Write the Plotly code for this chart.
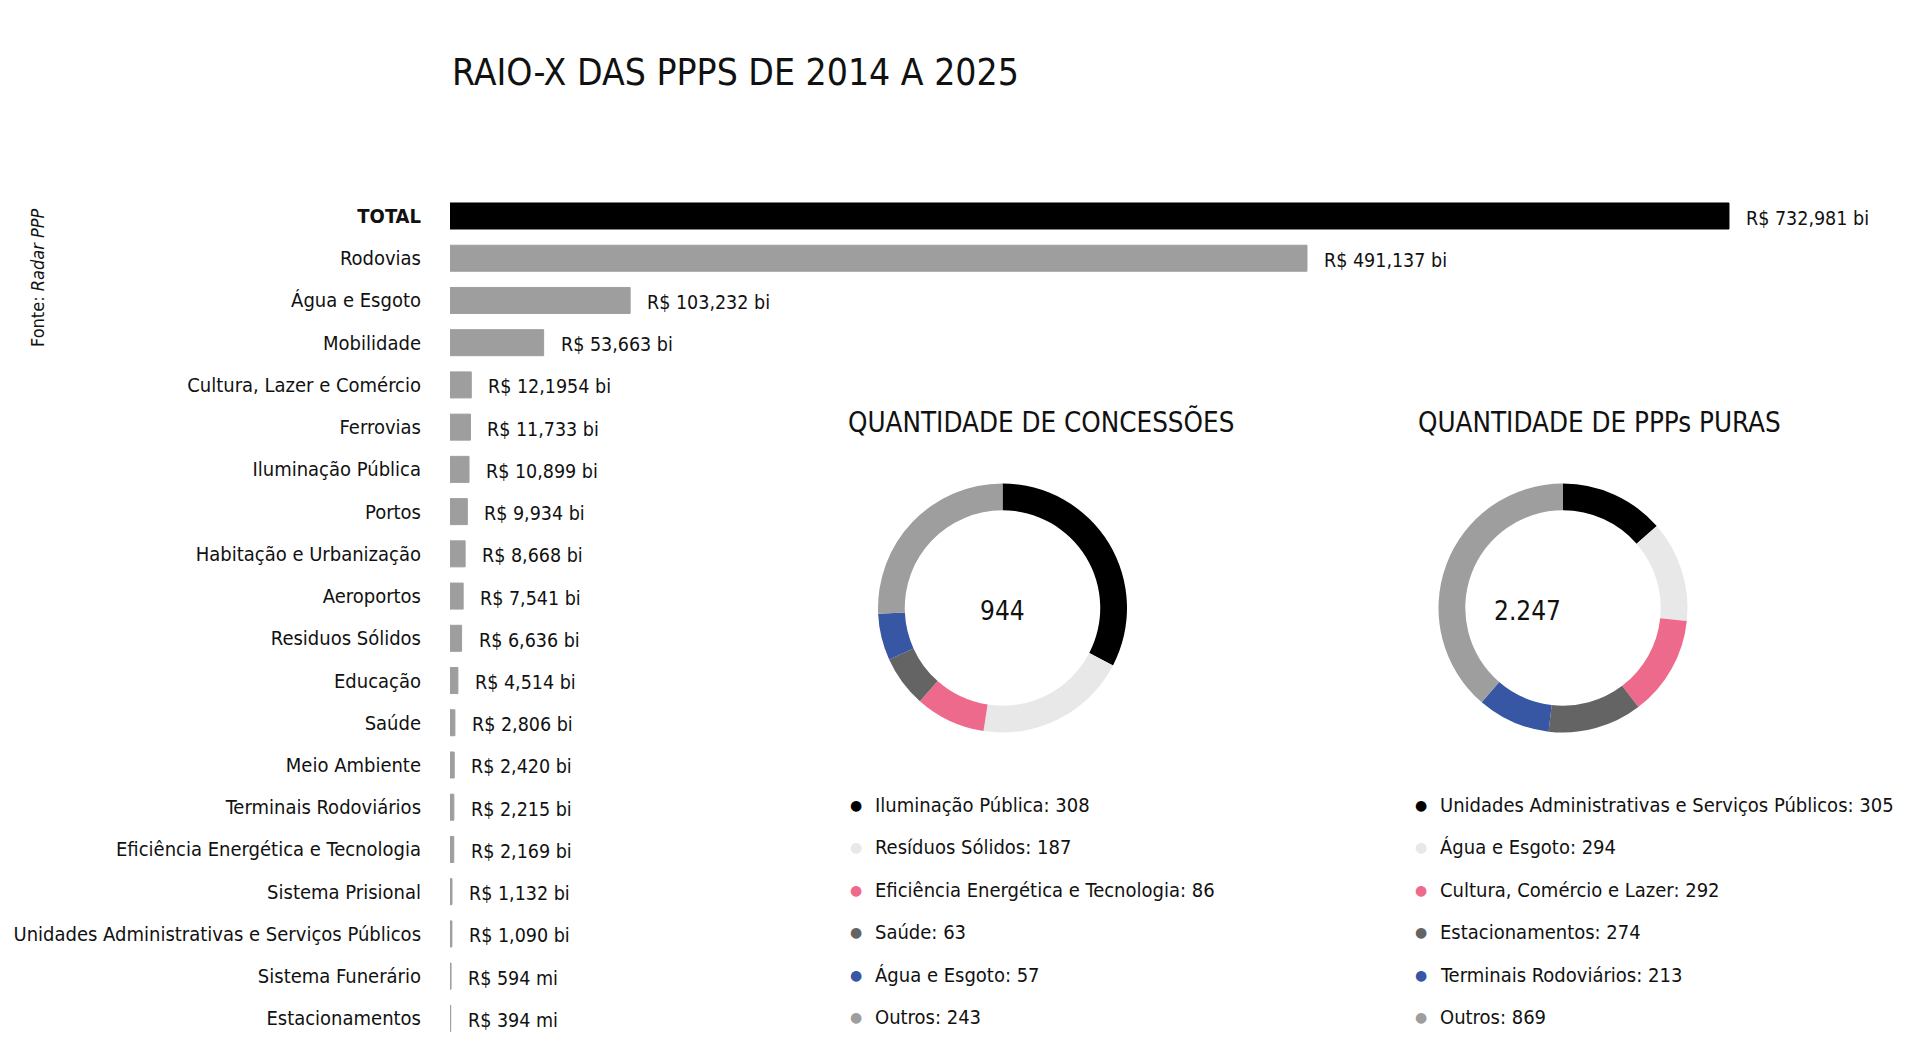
import plotly.graph_objects as go

W, H = 1920, 1062
FONT = "Liberation Sans Narrow, DejaVu Sans Condensed, Noto Sans, sans-serif"

# --- dados: investimento por setor ---
categorias = ["TOTAL", "Rodovias", "Água e Esgoto", "Mobilidade", "Cultura, Lazer e Comércio",
              "Ferrovias", "Iluminação Pública", "Portos", "Habitação e Urbanização", "Aeroportos",
              "Residuos Sólidos", "Educação", "Saúde", "Meio Ambiente", "Terminais Rodoviários",
              "Eficiência Energética e Tecnologia", "Sistema Prisional",
              "Unidades Administrativas e Serviços Públicos", "Sistema Funerário", "Estacionamentos"]
valores = [732.981, 491.137, 103.232, 53.663, 12.1954, 11.733, 10.899, 9.934, 8.668, 7.541,
           6.636, 4.514, 2.806, 2.420, 2.215, 2.169, 1.132, 1.090, 0.594, 0.394]
rotulos = ["R$ 732,981 bi", "R$ 491,137 bi", "R$ 103,232 bi", "R$ 53,663 bi", "R$ 12,1954 bi",
           "R$ 11,733 bi", "R$ 10,899 bi", "R$ 9,934 bi", "R$ 8,668 bi", "R$ 7,541 bi",
           "R$ 6,636 bi", "R$ 4,514 bi", "R$ 2,806 bi", "R$ 2,420 bi", "R$ 2,215 bi",
           "R$ 2,169 bi", "R$ 1,132 bi", "R$ 1,090 bi", "R$ 594 mi", "R$ 394 mi"]

# --- dados: concessões ---
conc_setores = ["Iluminação Pública", "Resíduos Sólidos", "Eficiência Energética e Tecnologia",
                "Saúde", "Água e Esgoto", "Outros"]
conc_qtd = [308, 187, 86, 63, 57, 243]
conc_total = "944"

# --- dados: PPPs puras ---
ppp_setores = ["Unidades Administrativas e Serviços Públicos", "Água e Esgoto",
               "Cultura, Comércio e Lazer", "Estacionamentos", "Terminais Rodoviários", "Outros"]
ppp_qtd = [305, 294, 292, 274, 213, 869]
ppp_total = "2.247"

cores = ["#000000", "#e8e8e8", "#ee6a8c", "#646464", "#3756a4", "#9e9e9e"]
cinza = "#9e9e9e"


def px_x(x):
    return x / W


def px_y(y):
    return 1 - y / H


fig = go.Figure()

bar_cols = ["#000000"] + [cinza] * (len(categorias) - 1)
fig.add_trace(go.Bar(
    x=valores, y=categorias, orientation="h",
    marker=dict(color=bar_cols, line=dict(color=bar_cols, width=1)),
    hoverinfo="x+y", showlegend=False,
))

# value labels next to bars
for v, c, t in zip(valores, categorias, rotulos):
    fig.add_annotation(x=v, y=c, xref="x", yref="y", text=t, showarrow=False,
                       xanchor="left", yanchor="middle", xshift=15, yshift=-2,
                       font=dict(family=FONT, size=19.5, color="#111"))

# donuts
r = 124.5
centros = [(1002.5, 608), (1563, 608)]
for (cx, cy), setores, qtd, total in zip(centros, [conc_setores, ppp_setores],
                                         [conc_qtd, ppp_qtd], [conc_total, ppp_total]):
    fig.add_trace(go.Pie(
        labels=setores, values=qtd, hole=0.785, sort=False, direction="clockwise",
        marker=dict(colors=cores), textinfo="none", showlegend=False,
        domain=dict(x=[px_x(cx - r), px_x(cx + r)], y=[px_y(cy + r), px_y(cy - r)]),
    ))
    fig.add_annotation(x=px_x(cx), y=px_y(cy + 3), xref="paper", yref="paper", text=total,
                       showarrow=False, font=dict(family=FONT, size=26, color="#111"))

# donut titles
for x0, titulo in [(846, "QUANTIDADE DE CONCESSÕES"), (1416, "QUANTIDADE DE PPPs PURAS")]:
    fig.add_annotation(x=px_x(x0), y=px_y(422), xref="paper", yref="paper", text=titulo,
                       showarrow=False, xanchor="left", yanchor="middle",
                       font=dict(family=FONT, size=27.5, color="#111"))

# custom legends
row0, step = 805, 42.4
for xb, setores, qtd in [(856, conc_setores, conc_qtd), (1421, ppp_setores, ppp_qtd)]:
    for i, (s, q) in enumerate(zip(setores, qtd)):
        yy = px_y(row0 + i * step)
        fig.add_annotation(x=px_x(xb), y=yy, xref="paper", yref="paper", text="●",
                           showarrow=False, xanchor="center", yanchor="middle",
                           font=dict(family="DejaVu Sans", size=14, color=cores[i]))
        fig.add_annotation(x=px_x(xb + 17), y=yy, xref="paper", yref="paper",
                           text=f"{s}: {q}", showarrow=False, xanchor="left", yanchor="middle",
                           font=dict(family=FONT, size=20, color="#111"))

# title and source
fig.add_annotation(x=px_x(450), y=px_y(73), xref="paper", yref="paper",
                   text="RAIO-X DAS PPPS DE 2014 A 2025", showarrow=False,
                   xanchor="left", yanchor="middle",
                   font=dict(family=FONT, size=37, color="#111"))
fig.add_annotation(x=px_x(37), y=px_y(278), xref="paper", yref="paper",
                   text="Fonte: <i>Radar PPP</i>", showarrow=False, textangle=-90,
                   xanchor="center", yanchor="middle",
                   font=dict(family=FONT, size=18, color="#111"))

ticktext = ["<b>" + categorias[0] + "</b>"] + categorias[1:]
fig.update_layout(
    width=W, height=H,
    margin=dict(l=0, r=0, t=0, b=0, autoexpand=False),
    paper_bgcolor="white", plot_bgcolor="white",
    bargap=0.384,
    font=dict(family=FONT, size=20, color="#111"),
    xaxis=dict(domain=[px_x(450), px_x(450 + 800 * 1.7449)], range=[0, 800],
               visible=False, fixedrange=True, automargin=False),
    yaxis=dict(domain=[px_y(216 + 19.5 * 42.23), px_y(216 - 0.5 * 42.23)],
               autorange="reversed",
               tickmode="array", tickvals=categorias, ticktext=ticktext,
               ticks="", showline=False, showgrid=False, zeroline=False,
               ticklabelstandoff=28, tickfont=dict(family=FONT, size=20, color="#111"),
               fixedrange=True, automargin=False),
)

fig.write_html("out.html", config={"displayModeBar": False},
               post_script="document.body.style.margin='0';")
